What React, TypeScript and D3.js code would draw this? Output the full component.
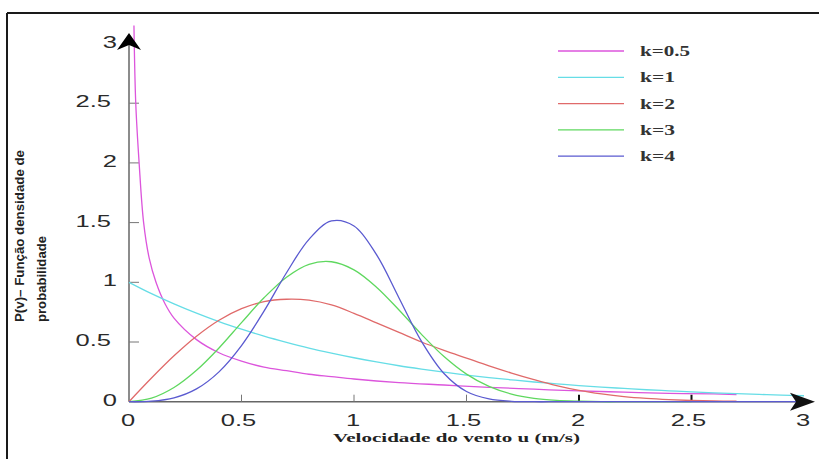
import React from "react";
import * as d3 from "d3";

const X_GRID = [0, 0.1, 0.2, 0.3, 0.4, 0.5, 0.6, 0.7, 0.8, 0.9, 1.0, 1.1, 1.2, 1.3, 1.4, 1.5, 1.6, 1.7, 1.8, 1.9, 2.0, 2.1, 2.2, 2.3, 2.4, 2.5, 2.6, 2.7, 2.8, 2.9, 3.0];

const K05_X = [0.022, 0.03, 0.045, 0.065, 0.09, 0.12, 0.16, 0.2, 0.3, 0.4, 0.5, 0.6, 0.7, 0.8, 0.9, 1.0, 1.2, 1.4, 1.6, 1.8, 2.0, 2.2, 2.4, 2.6, 2.7];
const K05_Y = [3.15, 2.5, 2.0, 1.5, 1.2, 1.0, 0.82, 0.7, 0.52, 0.41, 0.34, 0.29, 0.26, 0.23, 0.21, 0.19, 0.16, 0.14, 0.12, 0.105, 0.09, 0.08, 0.07, 0.065, 0.06];
const K1_Y = [1, 0.905, 0.819, 0.741, 0.67, 0.607, 0.549, 0.497, 0.449, 0.407, 0.368, 0.333, 0.301, 0.273, 0.247, 0.223, 0.202, 0.183, 0.165, 0.15, 0.135, 0.122, 0.111, 0.1, 0.091, 0.082, 0.074, 0.067, 0.061, 0.055, 0.05];
const K2_Y = [0, 0.198, 0.384, 0.548, 0.682, 0.779, 0.838, 0.858, 0.85, 0.81, 0.74, 0.66, 0.58, 0.5, 0.43, 0.365, 0.3, 0.24, 0.185, 0.135, 0.095, 0.065, 0.042, 0.027, 0.017, 0.01, 0.006, 0.004];
const K3_Y = [0, 0.03, 0.119, 0.263, 0.45, 0.662, 0.87, 1.043, 1.151, 1.172, 1.104, 0.959, 0.768, 0.564, 0.378, 0.231, 0.128, 0.064, 0.028, 0.011, 0.004, 0, 0, 0, 0, 0];
const K4_Y = [0, 0.004, 0.032, 0.107, 0.25, 0.47, 0.758, 1.08, 1.36, 1.514, 1.472, 1.231, 0.869, 0.505, 0.236, 0.085, 0.023, 0.003, 0, 0, 0, 0, 0, 0, 0, 0, 0, 0, 0, 0, 0];

const SERIES_LABELS = ["k=0.5", "k=1", "k=2", "k=3", "k=4"];
const SERIES_COLORS = ["#dc55dc", "#66dde6", "#e06a6a", "#5fd85f", "#5a5ad0"];
const X_TICKS = [0, 0.5, 1, 1.5, 2, 2.5, 3];
const Y_TICKS = [0, 0.5, 1, 1.5, 2, 2.5, 3];
const X_TITLE = "Velocidade do vento u (m/s)";
const Y_TITLE_1 = "P(v)– Função densidade de";
const Y_TITLE_2 = "probabilidade";

export default function App() {
  const x = d3.scaleLinear().domain([0, 3]).range([129, 804]);
  const y = d3.scaleLinear().domain([0, 3]).range([401.7, 43.5]);

  const series = [
    K05_X.map((v, i) => [v, K05_Y[i]]),
    K1_Y.map((v, i) => [X_GRID[i], v]),
    K2_Y.map((v, i) => [X_GRID[i], v]),
    K3_Y.map((v, i) => [X_GRID[i], v]),
    K4_Y.map((v, i) => [X_GRID[i], v]),
  ];

  const line = d3
    .line<number[]>()
    .x((d) => x(d[0]))
    .y((d) => y(Math.max(0, d[1])))
    .curve(d3.curveCatmullRom.alpha(0.5));

  const x0 = x(0);
  const y0 = y(0);
  const yTop = 33;
  const xEnd = 815;

  const font = "'Liberation Sans', Arial, sans-serif";
  const serif = "'Liberation Serif', 'Times New Roman', serif";

  return (
    <svg
      width={819}
      height={459}
      style={{ position: "absolute", left: 0, top: 0, background: "#fff" }}
    >
      {/* frame */}
      <line x1={7} y1={13} x2={819} y2={13} stroke="#1a1a1a" strokeWidth={2} />
      <line x1={7} y1={13} x2={7} y2={459} stroke="#1a1a1a" strokeWidth={2} />

      {/* axes */}
      <line x1={x0} y1={y0} x2={x0} y2={yTop + 10} stroke="#666" strokeWidth={1.5} />
      <line x1={x0} y1={y0} x2={xEnd - 10} y2={y0} stroke="#666" strokeWidth={1.5} />

      {Y_TICKS.slice(1, -1).map((t) => (
        <line key={"yt" + t} x1={x0} x2={x0 + 10} y1={y(t)} y2={y(t)} stroke="#777" strokeWidth={1} />
      ))}
      {X_TICKS.slice(1, -1).map((t) => (
        <line
          key={"xt" + t}
          x1={x(t)}
          x2={x(t)}
          y1={y0}
          y2={y0 - 7}
          stroke={t >= 2 ? "#111" : "#777"}
          strokeWidth={t >= 2 ? 2 : 1}
        />
      ))}

      {/* curves */}
      {series.map((s, i) => (
        <path
          key={"s" + i}
          d={line(s) || ""}
          fill="none"
          stroke={SERIES_COLORS[i]}
          strokeWidth={1.3}
        />
      ))}

      {/* arrows */}
      <path
        d={`M${x0},${yTop} L${x0 + 12},${yTop + 17} L${x0},${yTop + 12} L${x0 - 12},${yTop + 17} Z`}
        fill="#000"
      />
      <path
        d={`M${xEnd},${y0} L${xEnd - 25},${y0 - 9} L${xEnd - 19},${y0} L${xEnd - 25},${y0 + 9} Z`}
        fill="#111"
      />

      {/* y tick labels */}
      {Y_TICKS.map((t) => (
        <g key={"yl" + t} transform={`translate(${Number.isInteger(t) ? 117 : 111},${y(t) + 4}) scale(1.5,1)`}>
          <text textAnchor="end" fontFamily={font} fontSize={17} fill="#2a2a2a">
            {String(t)}
          </text>
        </g>
      ))}
      {/* x tick labels */}
      {X_TICKS.map((t) => (
        <g key={"xl" + t} transform={`translate(${x(t) - (Number.isInteger(t) ? 1 : 3)},${426}) scale(1.5,1)`}>
          <text textAnchor="middle" fontFamily={font} fontSize={17} fill="#2a2a2a">
            {String(t)}
          </text>
        </g>
      ))}

      {/* x title */}
      <text
        x={333}
        y={442}
        fontFamily={serif}
        fontWeight="bold"
        fontSize={13}
        textLength={247}
        lengthAdjust="spacingAndGlyphs"
        fill="#222"
      >
        {X_TITLE}
      </text>

      {/* y title */}
      <text
        transform="translate(24,322) rotate(-90)"
        fontFamily={font}
        fontWeight="bold"
        fontSize={12}
        textLength={172}
        lengthAdjust="spacingAndGlyphs"
        fill="#222"
      >
        {Y_TITLE_1}
      </text>
      <text
        transform="translate(46,322) rotate(-90)"
        fontFamily={font}
        fontWeight="bold"
        fontSize={12}
        textLength={86}
        lengthAdjust="spacingAndGlyphs"
        fill="#222"
      >
        {Y_TITLE_2}
      </text>

      {/* legend */}
      {SERIES_LABELS.map((lab, i) => {
        const ly = 51 + i * 26.3;
        return (
          <g key={"lg" + i}>
            <line x1={558} x2={624} y1={ly} y2={ly} stroke={SERIES_COLORS[i]} strokeWidth={1.3} />
            <text
              x={640}
              y={ly + 5}
              fontFamily={serif}
              fontWeight="bold"
              fontSize={14}
              textLength={i === 0 ? 50 : 35}
              lengthAdjust="spacingAndGlyphs"
              fill="#333"
            >
              {lab}
            </text>
          </g>
        );
      })}
    </svg>
  );
}
